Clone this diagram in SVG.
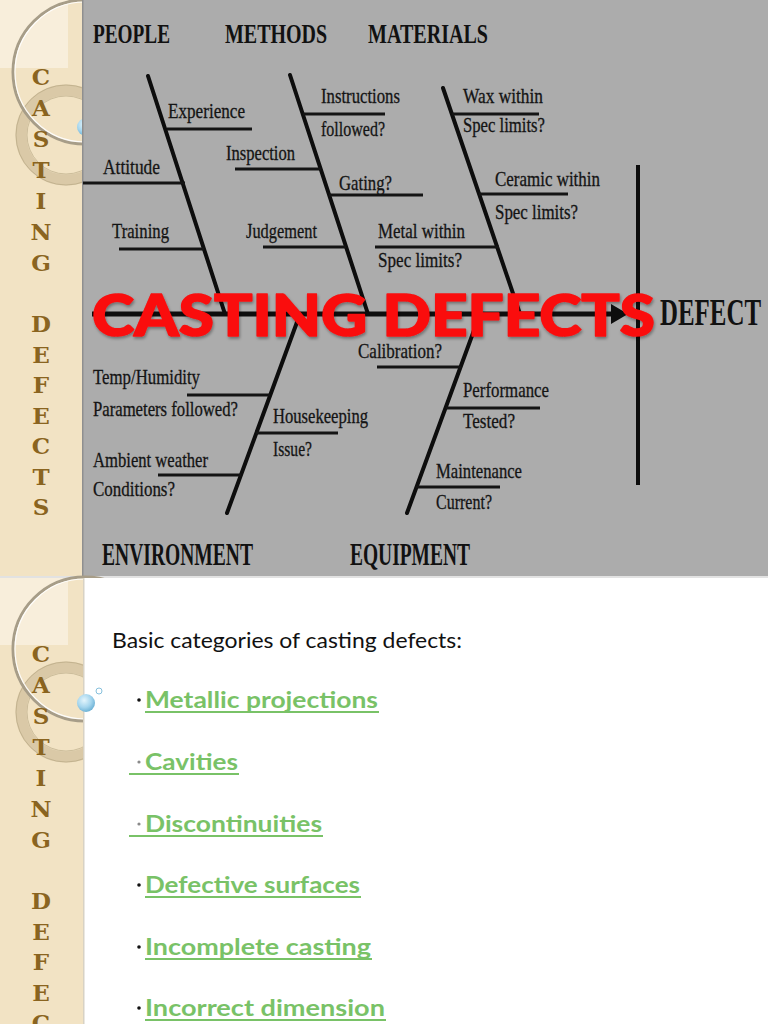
<svg xmlns="http://www.w3.org/2000/svg" width="768" height="1024" viewBox="0 0 768 1024">
<defs>
<style>
.side{fill:#f2e3c4}
.lite{fill:#f8eedb}
.big{fill:none;stroke:#a79d88;stroke-width:3}
.bigi{fill:none;stroke:#ffffff;stroke-width:1.2;opacity:.9}
.ring{fill:none;stroke:#c9b894;stroke-width:11;opacity:.6}
.ringe{fill:none;stroke:#b3a37f;stroke-width:1;opacity:.6}
.let{font-family:"DejaVu Serif","Liberation Serif",serif;font-weight:bold;font-size:23px;fill:#8a6420;text-anchor:middle}
.h{font-family:"Liberation Serif",serif;font-weight:bold;font-size:28px;fill:#111}
.t{font-family:"Liberation Serif",serif;font-size:21px;fill:#141414;stroke:#141414;stroke-width:0.3}
.bone{stroke:#0d0d0d;stroke-width:4;fill:none;stroke-linecap:round}
.sub{stroke:#141414;stroke-width:3;fill:none}
.title{font-family:Lato,"Open Sans","Liberation Sans",sans-serif;font-weight:900;font-size:58px;fill:#fa0a0a;stroke:#fa0a0a;stroke-width:1.6;stroke-linejoin:round}
.body{font-family:Lato,"Open Sans","Liberation Sans",sans-serif;font-size:22px;fill:#111}
.g{font-family:Lato,"Open Sans","Liberation Sans",sans-serif;font-weight:bold;font-size:22px;fill:#79c267}
.ul{stroke:#79c267;stroke-width:2}
</style>
<radialGradient id="ball" cx="40%" cy="35%" r="65%">
<stop offset="0" stop-color="#e4f5fc"/>
<stop offset="0.6" stop-color="#a6d6ee"/>
<stop offset="1" stop-color="#6fb3d6"/>
</radialGradient>
<filter id="sh" x="-5%" y="-20%" width="110%" height="140%">
<feGaussianBlur in="SourceAlpha" stdDeviation="1.5"/>
<feOffset dx="1" dy="2" result="b"/>
<feFlood flood-color="#000" flood-opacity="0.35"/>
<feComposite in2="b" operator="in"/>
<feMerge><feMergeNode/><feMergeNode in="SourceGraphic"/></feMerge>
</filter>
</defs>

<!-- ===== TOP SLIDE ===== -->
<g id="top-sidebar">
<rect class="side" x="0" y="0" width="84" height="577"/>
<rect class="lite" x="0" y="0" width="68" height="68"/>
<circle class="ring" cx="66" cy="135" r="45"/>
<circle class="ringe" cx="66" cy="135" r="50"/>
<circle class="ringe" cx="66" cy="135" r="39"/>
<circle class="big" cx="85" cy="72" r="72"/>
<circle class="bigi" cx="85" cy="72" r="70"/>
<circle cx="86" cy="127" r="9" fill="url(#ball)"/>
<text class="let"><tspan x="41" y="85">C</tspan><tspan x="41" y="116">A</tspan><tspan x="41" y="147">S</tspan><tspan x="41" y="178">T</tspan><tspan x="41" y="209">I</tspan><tspan x="41" y="240">N</tspan><tspan x="41" y="271">G</tspan><tspan x="41" y="332">D</tspan><tspan x="41" y="363">E</tspan><tspan x="41" y="393">F</tspan><tspan x="41" y="424">E</tspan><tspan x="41" y="454">C</tspan><tspan x="41" y="485">T</tspan><tspan x="41" y="515">S</tspan></text>
</g>
<rect x="83" y="0" width="685" height="576" fill="#acacac"/>
<rect x="82" y="0" width="1.5" height="576" fill="#8f8f8f"/>

<g id="connectors">
<line class="bone" x1="148" y1="76" x2="225" y2="314"/>
<line class="bone" x1="290" y1="75" x2="368" y2="314"/>
<line class="bone" x1="443" y1="88" x2="520" y2="314"/>
<line class="bone" x1="227" y1="513" x2="300" y2="314"/>
<line class="bone" x1="407" y1="513" x2="480" y2="314"/>
<line x1="92" y1="314" x2="614" y2="314" stroke="#0d0d0d" stroke-width="5"/>
<polygon points="611,304 628,314 611,324" fill="#0d0d0d"/>
<line x1="638" y1="165" x2="638" y2="485" stroke="#0d0d0d" stroke-width="4"/>
<line class="sub" x1="167" y1="129" x2="252" y2="129"/>
<line class="sub" x1="83" y1="183" x2="185" y2="183"/>
<line class="sub" x1="119" y1="249" x2="204" y2="249"/>
<line class="sub" x1="303" y1="114" x2="385" y2="114"/>
<line class="sub" x1="235" y1="169" x2="321" y2="169"/>
<line class="sub" x1="329" y1="195" x2="423" y2="195"/>
<line class="sub" x1="263" y1="247" x2="346" y2="247"/>
<line class="sub" x1="375" y1="247" x2="499" y2="247"/>
<line class="sub" x1="452" y1="114" x2="539" y2="114"/>
<line class="sub" x1="479" y1="194" x2="568" y2="194"/>
<line class="sub" x1="377" y1="367" x2="461" y2="367"/>
<line class="sub" x1="187" y1="395" x2="270" y2="395"/>
<line class="sub" x1="256" y1="433" x2="338" y2="433"/>
<line class="sub" x1="158" y1="475" x2="241" y2="475"/>
<line class="sub" x1="446" y1="408" x2="540" y2="408"/>
<line class="sub" x1="416" y1="487" x2="500" y2="487"/>
</g>

<g id="people"><text class="h" x="93" y="43" textLength="77" lengthAdjust="spacingAndGlyphs">PEOPLE</text></g>
<g id="methods"><text class="h" x="225" y="43" textLength="102" lengthAdjust="spacingAndGlyphs">METHODS</text></g>
<g id="materials"><text class="h" x="368" y="43" textLength="120" lengthAdjust="spacingAndGlyphs">MATERIALS</text></g>
<g id="defect"><text class="h" x="660" y="325" style="font-size:37px" textLength="101" lengthAdjust="spacingAndGlyphs">DEFECT</text></g>
<g id="environment"><text class="h" x="102" y="565" style="font-size:32px" textLength="151" lengthAdjust="spacingAndGlyphs">ENVIRONMENT</text></g>
<g id="equipment"><text class="h" x="350" y="565" style="font-size:32px" textLength="120" lengthAdjust="spacingAndGlyphs">EQUIPMENT</text></g>

<g id="experience"><text class="t" x="168" y="118" textLength="77" lengthAdjust="spacingAndGlyphs">Experience</text></g>
<g id="attitude"><text class="t" x="103" y="174" textLength="57" lengthAdjust="spacingAndGlyphs">Attitude</text></g>
<g id="training"><text class="t" x="112" y="238" textLength="57" lengthAdjust="spacingAndGlyphs">Training</text></g>
<g id="instructions"><text class="t" x="321" y="103" textLength="79" lengthAdjust="spacingAndGlyphs">Instructions</text><text class="t" x="321" y="136" textLength="64" lengthAdjust="spacingAndGlyphs">followed?</text></g>
<g id="inspection"><text class="t" x="226" y="160" textLength="69" lengthAdjust="spacingAndGlyphs">Inspection</text></g>
<g id="gating"><text class="t" x="339" y="190" textLength="53" lengthAdjust="spacingAndGlyphs">Gating?</text></g>
<g id="judgement"><text class="t" x="246" y="238" textLength="71" lengthAdjust="spacingAndGlyphs">Judgement</text></g>
<g id="metal"><text class="t" x="378" y="238" textLength="87" lengthAdjust="spacingAndGlyphs">Metal within</text><text class="t" x="378" y="267" textLength="84" lengthAdjust="spacingAndGlyphs">Spec limits?</text></g>
<g id="wax"><text class="t" x="463" y="103" textLength="80" lengthAdjust="spacingAndGlyphs">Wax within</text><text class="t" x="463" y="132" textLength="82" lengthAdjust="spacingAndGlyphs">Spec limits?</text></g>
<g id="ceramic"><text class="t" x="495" y="186" textLength="105" lengthAdjust="spacingAndGlyphs">Ceramic within</text><text class="t" x="495" y="219" textLength="83" lengthAdjust="spacingAndGlyphs">Spec limits?</text></g>
<g id="calibration"><text class="t" x="358" y="358" textLength="84" lengthAdjust="spacingAndGlyphs">Calibration?</text></g>
<g id="temp"><text class="t" x="93" y="384" textLength="107" lengthAdjust="spacingAndGlyphs">Temp/Humidity</text><text class="t" x="93" y="416" textLength="145" lengthAdjust="spacingAndGlyphs">Parameters followed?</text></g>
<g id="housekeeping"><text class="t" x="273" y="423" textLength="95" lengthAdjust="spacingAndGlyphs">Housekeeping</text><text class="t" x="273" y="456" textLength="39" lengthAdjust="spacingAndGlyphs">Issue?</text></g>
<g id="ambient"><text class="t" x="93" y="467" textLength="115" lengthAdjust="spacingAndGlyphs">Ambient weather</text><text class="t" x="93" y="496" textLength="82" lengthAdjust="spacingAndGlyphs">Conditions?</text></g>
<g id="performance"><text class="t" x="463" y="397" textLength="86" lengthAdjust="spacingAndGlyphs">Performance</text><text class="t" x="463" y="428" textLength="52" lengthAdjust="spacingAndGlyphs">Tested?</text></g>
<g id="maintenance"><text class="t" x="436" y="478" textLength="86" lengthAdjust="spacingAndGlyphs">Maintenance</text><text class="t" x="436" y="509" textLength="56" lengthAdjust="spacingAndGlyphs">Current?</text></g>

<g id="title"><text class="title" x="92" y="336" textLength="563" lengthAdjust="spacingAndGlyphs" filter="url(#sh)">CASTING DEFECTS</text></g>

<rect x="0" y="576" width="768" height="2" fill="#e2e2e2"/>

<!-- ===== BOTTOM SLIDE ===== -->
<g id="bottom-sidebar">
<rect class="side" x="0" y="578" width="84" height="446"/>
<rect class="lite" x="0" y="578" width="68" height="67"/>
<circle class="ring" cx="66" cy="712" r="45"/>
<circle class="ringe" cx="66" cy="712" r="50"/>
<circle class="ringe" cx="66" cy="712" r="39"/>
<circle class="big" cx="85" cy="649" r="72"/>
<circle class="bigi" cx="85" cy="649" r="70"/>
<text class="let"><tspan x="41" y="662">C</tspan><tspan x="41" y="693">A</tspan><tspan x="41" y="724">S</tspan><tspan x="41" y="755">T</tspan><tspan x="41" y="786">I</tspan><tspan x="41" y="817">N</tspan><tspan x="41" y="848">G</tspan><tspan x="41" y="909">D</tspan><tspan x="41" y="940">E</tspan><tspan x="41" y="970">F</tspan><tspan x="41" y="1001">E</tspan><tspan x="41" y="1031">C</tspan></text>
</g>
<rect x="84" y="578" width="684" height="446" fill="#ffffff"/>
<rect x="83" y="578" width="1.5" height="446" fill="#d8d2c4"/>
<circle cx="86" cy="703" r="9" fill="url(#ball)"/>
<circle cx="99" cy="691" r="3" fill="#fff" stroke="#86c0dc" stroke-width="1"/>

<g id="heading"><text class="body" x="112" y="648" textLength="350" lengthAdjust="spacingAndGlyphs">Basic categories of casting defects:</text></g>
<g id="item-metallic"><circle cx="139" cy="700" r="1.8" fill="#111"/><text class="g" x="145" y="708" textLength="233" lengthAdjust="spacingAndGlyphs">Metallic projections</text><line class="ul" x1="145" y1="712" x2="379" y2="712"/></g>
<g id="item-cavities"><circle cx="139" cy="762" r="1.6" fill="#8a8a8a"/><text class="g" x="145" y="770" textLength="93" lengthAdjust="spacingAndGlyphs">Cavities</text><line class="ul" x1="129" y1="774" x2="239" y2="774"/></g>
<g id="item-disc"><circle cx="139" cy="824" r="1.6" fill="#8a8a8a"/><text class="g" x="145" y="832" textLength="177" lengthAdjust="spacingAndGlyphs">Discontinuities</text><line class="ul" x1="129" y1="836" x2="323" y2="836"/></g>
<g id="item-surfaces"><circle cx="139" cy="885" r="1.8" fill="#111"/><text class="g" x="145" y="893" textLength="215" lengthAdjust="spacingAndGlyphs">Defective surfaces</text><line class="ul" x1="145" y1="897" x2="361" y2="897"/></g>
<g id="item-incomplete"><circle cx="139" cy="947" r="1.8" fill="#111"/><text class="g" x="145" y="955" textLength="226" lengthAdjust="spacingAndGlyphs">Incomplete casting</text><line class="ul" x1="145" y1="959" x2="372" y2="959"/></g>
<g id="item-incorrect"><circle cx="139" cy="1008" r="1.8" fill="#111"/><text class="g" x="145" y="1016" textLength="240" lengthAdjust="spacingAndGlyphs">Incorrect dimension</text><line class="ul" x1="145" y1="1020" x2="386" y2="1020"/></g>
</svg>
